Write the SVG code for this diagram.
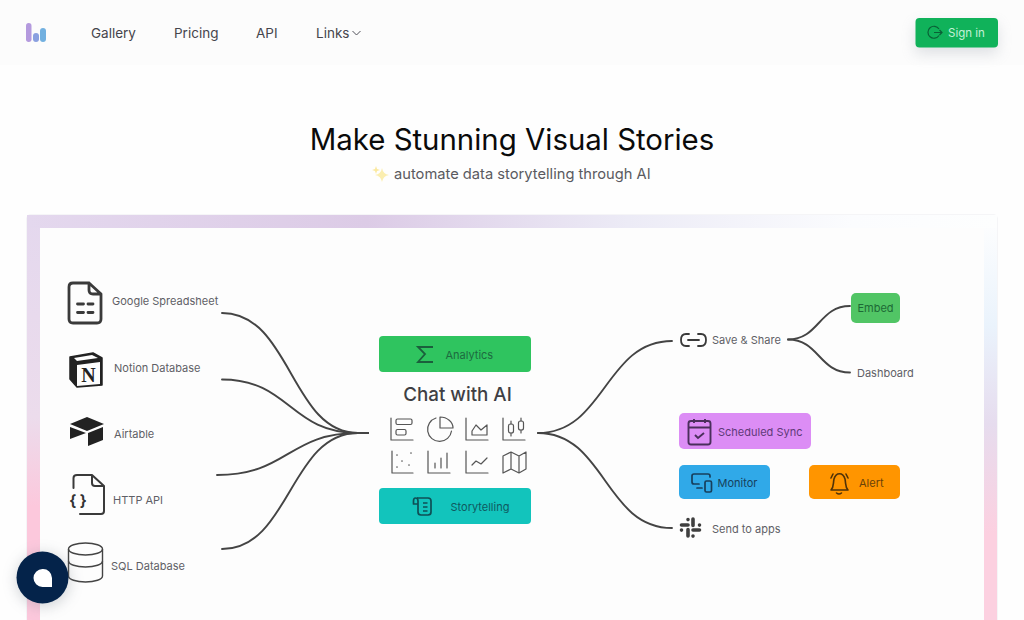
<svg xmlns="http://www.w3.org/2000/svg" width="1024" height="620" viewBox="0 0 1024 620">
<defs>
<style>
text{font-family:Inter,"Noto Sans","Liberation Sans",sans-serif}
.nav{font-size:13.5px;fill:#45454c}
.lb{font-size:11px;fill:#5f5f66}
.ic{fill:none;stroke:#555;stroke-width:1.2;stroke-linecap:round;stroke-linejoin:round}
.ib{fill:none;stroke:#3a3a3a;stroke-width:2.8;stroke-linecap:round;stroke-linejoin:round}
.c{fill:none;stroke:#444;stroke-width:1.9;stroke-linecap:round}
</style>
<linearGradient id="gt" x1="0" x2="1" y1="0" y2="0"><stop offset="0" stop-color="#e4d8ee"/><stop offset=".35" stop-color="#dccbe6"/><stop offset=".62" stop-color="#ecebf6"/><stop offset=".85" stop-color="#fbfcfe"/><stop offset="1" stop-color="#fdfefe"/></linearGradient>
<linearGradient id="gl" x1="0" x2="0" y1="0" y2="1"><stop offset="0" stop-color="#e4d8ee"/><stop offset=".5" stop-color="#ecdcec"/><stop offset=".72" stop-color="#fcc8dc"/><stop offset="1" stop-color="#fcc8dc"/></linearGradient>
<linearGradient id="gr" x1="0" x2="0" y1="0" y2="1"><stop offset="0" stop-color="#fcfdfe"/><stop offset=".25" stop-color="#eaf3fc"/><stop offset=".5" stop-color="#e6dcee"/><stop offset=".78" stop-color="#fcd0e0"/><stop offset="1" stop-color="#fcd0e0"/></linearGradient>
<filter id="sh" x="-50%" y="-50%" width="200%" height="200%"><feGaussianBlur stdDeviation="7"/></filter>
</defs>
<rect width="1024" height="620" fill="#fefefe"/>
<rect id="navbar" width="1024" height="65" fill="#fcfcfc"/>
<g id="logo"><rect x="26" y="23" width="5.500" height="19" rx="2.700" fill="#b49ade"/><rect x="33" y="33" width="6" height="9" rx="3" fill="#8aa0e0"/><rect x="40" y="28" width="6" height="14" rx="3" fill="#72b0e0"/></g>
<g id="nav-links">
<text class="nav" x="91" y="37.500">Gallery</text><text class="nav" x="174" y="37.500">Pricing</text><text class="nav" x="256" y="37.500">API</text><text class="nav" x="316" y="37.500">Links</text>
<path d="M352.500 31l4 4 4-4" fill="none" stroke="#52525b" stroke-width="1"/>
</g>
<g id="sign-in">
<rect x="915" y="24" width="83" height="30" rx="4" fill="#9ca3af" opacity=".3" filter="url(#sh)"/>
<rect x="915.500" y="18" width="82.500" height="29.500" rx="4" fill="#10b25a"/>
<path d="M939 29a6 6 0 1 0 0 6.500M934 32.500h8m-2.500-2.500l2.500 2.500-2.500 2.500" fill="none" stroke="#0b5f36" stroke-width="1.200"/>
<text x="948" y="37" font-size="11.500" fill="#c4f0d6">Sign in</text>
</g>
<text x="512" y="150" text-anchor="middle" font-size="29.400" fill="#0a0a0a">Make Stunning Visual Stories</text>
<g id="subtitle">
<path d="M382 168q1 6 7 7q-6 1-7 7q-1-6-7-7q6-1 7-7z" fill="#fbeeb0"/><path d="M376 166l1 3 3 1-3 1-1 3-1-3-3-1 3-1z" fill="#fbe9a0"/>
<text x="394" y="179" font-size="14.700" fill="#5a5a60">automate data storytelling through AI</text>
</g>
<g id="frame">
<rect x="26" y="214" width="972" height="420" rx="5" fill="#f5f5f7"/>
<rect x="27" y="215" width="14" height="405" fill="url(#gl)"/>
<rect x="27" y="215" width="970" height="13" fill="url(#gt)"/>
<rect x="984" y="228" width="13" height="392" fill="url(#gr)"/>
<rect x="40" y="228" width="944" height="392" fill="#fdfdfd"/>
</g>
<g id="connectors">
<path class="c" d="M222 313C291 313 291 433 358 433H368"/>
<path class="c" d="M222 379.500C290 379.500 290 433 358 433H368"/>
<path class="c" d="M217 475C288 475 288 433 358 433H368"/>
<path class="c" d="M222 549C290 549 290 433 358 433H368"/>
<path class="c" d="M538 433C605 433 605 341 672 341"/>
<path class="c" d="M538 433C605 433 605 528 672 528"/>
<path class="c" d="M788 339.500C819 339.500 819 306 850 306"/>
<path class="c" d="M788 339.500C819 339.500 819 372.500 850 372.500"/>
</g>
<g id="google-spreadsheet"><path class="ib" d="M73 283H89L101 294V319Q101 323 97 323H73Q69 323 69 319V287Q69 283 73 283ZM89 283V290Q89 294 93 294H101"/><path class="ib" d="M77.500 304h6M88 304h5M77.500 312.500h6M88 312.500h5"/><text class="lb" x="112" y="305">Google Spreadsheet</text></g>
<g id="notion-database"><path d="M70 357L93 353L102 358V385L77 387L70 379Z" fill="#222" stroke="#222" stroke-width="1.500" stroke-linejoin="round"/><path d="M77 365L100 362V384L77 386Z" fill="#fdfdfd"/><path d="M74 358L92 355L98 358L77 361Z" fill="#fdfdfd"/><text x="88.500" y="382" text-anchor="middle" style="font-family:'Liberation Serif',serif" font-size="20" font-weight="700" fill="#222">N</text><text class="lb" x="114" y="372">Notion Database</text></g>
<g id="airtable"><path d="M87 417L104 424L87 431L70 424Z" fill="#222"/><path d="M70 427L86 433L70 439ZM103 427V440L88 446V433Z" fill="#222"/><text class="lb" x="114" y="438">Airtable</text></g>
<g id="http-api"><path class="ic" style="stroke-width:2;stroke:#3a3a3a" d="M73.500 488V478Q73.500 475 77 475H92L104 486V511Q104 514 101 514H80M92 475V483Q92 486 95 486H104"/><text x="78" y="505.500" text-anchor="middle" font-size="15" font-weight="700" fill="#333">{ }</text><text class="lb" x="113" y="504">HTTP API</text></g>
<g id="sql-database"><path d="M68.500 549A17 6 0 0 1 102.500 549V576A17 6 0 0 1 68.500 576Z" fill="#fdfdfd" stroke="#444" stroke-width="1.400"/><path d="M68.500 549A17 6 0 0 0 102.500 549M68.500 561A17 6 0 0 0 102.500 561" fill="none" stroke="#444" stroke-width="1.400"/><text class="lb" x="111" y="570">SQL Database</text></g>
<g id="analytics"><rect x="379" y="336" width="152" height="36" rx="4" fill="#2fc45f"/><path d="M433 347H418L425 354L418 362H433" fill="none" stroke="#1b5f3c" stroke-width="1.800"/><text x="445.500" y="359" font-size="11" fill="#1d6a40">Analytics</text></g>
<text x="457.500" y="400.500" text-anchor="middle" font-size="18.800" font-weight="500" fill="#3f3f44">Chat with AI</text>
<g id="chart-icons">
<path class="ic" d="M391 418V440H413"/><rect class="ic" x="396" y="419" width="16" height="5.500" rx="1.500"/><rect class="ic" x="396" y="429.500" width="10" height="5.500" rx="1.500"/>
<path class="ic" d="M436 418A12 12 0 1 0 451.500 431"/><path class="ic" d="M440 417V428H453A13 11 0 0 0 440 417Z"/>
<path class="ic" d="M466 418V440H488M472 435V431L476 425L481 430L487 425V435Z"/>
<path class="ic" d="M503 418V440H525"/><rect class="ic" x="508.500" y="424" width="5" height="9" rx="2"/><path class="ic" d="M511 421V424M511 433V436M521 418V421M521 430V433"/><rect class="ic" x="518.500" y="421" width="5" height="9" rx="2"/>
<path class="ic" d="M392 451V473H413"/><path d="M397 455v.1M411 453v.1M402 461v.1M397 467v.1M409 465v.1" class="ic" style="stroke-width:1.600"/>
<path class="ic" d="M428 451V473H450M435 463V468M441 458V468M447 453V468"/>
<path class="ic" d="M466 451V473H488M472 465L476 461L481 464L487 458"/>
<path class="ic" d="M503 456L511 452L519 456L526 452V469L519 473L511 469L503 473ZM511 452V469M519 456V473"/>
</g>
<g id="storytelling"><rect x="379" y="488" width="152" height="36" rx="4" fill="#12c4bc"/><path d="M417 498H428Q431 498 431 501V512Q431 515 428 515H421Q418 515 418 512V501Q418 498 415.500 498Q413.500 498 413.500 501V504H418M423 503h4.500M423 507h4.500M423 511h4.500" fill="none" stroke="#0f4f55" stroke-width="1.700" stroke-linejoin="round"/><text x="450.500" y="511" font-size="11" fill="#0f5a60">Storytelling</text></g>
<g id="save-share"><path d="M689 334H686Q681 334 681 340Q681 346 686 346H689M698 334H701Q706 334 706 340Q706 346 701 346H698M688 340H699" fill="none" stroke="#3a3a3a" stroke-width="1.800" stroke-linecap="round"/><text class="lb" x="712" y="344">Save &amp; Share</text></g>
<g id="embed"><rect x="851" y="293" width="49" height="30" rx="5" fill="#51c565"/><text x="875.500" y="311.500" text-anchor="middle" font-size="11" fill="#1d6a35">Embed</text></g>
<g id="dashboard"><text class="lb" x="857" y="377">Dashboard</text></g>
<g id="scheduled-sync"><rect x="679" y="413" width="132" height="36" rx="5" fill="#dc8df5"/><rect x="688.500" y="421" width="22" height="23.500" rx="2.500" fill="none" stroke="#4a2f5c" stroke-width="1.900"/><path d="M688.500 427.500H710.500M694 419V423M705 419V423M695 435L698 438L704 433" fill="none" stroke="#4a2f5c" stroke-width="1.900"/><text x="718" y="436" font-size="11" fill="#5e3a78">Scheduled Sync</text></g>
<g id="monitor"><rect x="679" y="465" width="91" height="34" rx="5" fill="#30a9e8"/><path d="M699 484H694Q692 484 692 482V476Q692 474 694 474H708Q710 474 710 476V477M697 488H702" fill="none" stroke="#173f5c" stroke-width="1.700" stroke-linecap="round"/><rect x="705" y="481" width="6.500" height="11" rx="1.500" fill="none" stroke="#173f5c" stroke-width="1.700"/><text x="717.500" y="487" font-size="11" fill="#173f5c">Monitor</text></g>
<g id="alert"><rect x="809" y="465" width="91" height="34" rx="5" fill="#ff9500"/><path d="M831 490C834 487 833 484 834 479C836 472 843 472 845 479C846 484 845 487 848 490ZM836.500 493Q839 495 841.500 493M831 478L833 474M848 478L846 474" fill="none" stroke="#4f3208" stroke-width="1.600" stroke-linejoin="round" stroke-linecap="round"/><text x="859" y="487" font-size="11" fill="#6b4208">Alert</text></g>
<g id="send-to-apps"><path d="M681.500 525H688M688 519.500V519.600M693 519V525.500M699.500 525V525.100M699.500 530H693M693 536V536.100M688 536V529.500M681.500 530V530.100" fill="none" stroke="#3f3f3f" stroke-width="3.600" stroke-linecap="round"/><text class="lb" x="712" y="533">Send to apps</text></g>
<g id="chat-bubble"><circle cx="43" cy="580" r="27" fill="#7f8790" opacity=".35" filter="url(#sh)"/><circle cx="42.500" cy="577.500" r="26" fill="#04234a"/><path d="M42.500 569A9 9 0 0 0 42.500 587H52V578A9 9 0 0 0 42.500 569Z" fill="#fff"/></g>
</svg>
